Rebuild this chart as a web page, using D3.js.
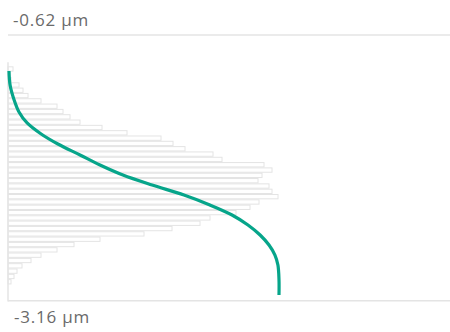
<!DOCTYPE html>
<html>
<head>
<meta charset="utf-8">
<script src="https://cdn.jsdelivr.net/npm/d3@7"></script>
<style>
  html, body { margin: 0; padding: 0; background: #fff; }
  svg { display: block; }
</style>
</head>
<body>
<svg id="chart" width="450" height="332"></svg>
<script>
// Height range shown (µm)
const topHeight = -0.62;
const bottomHeight = -3.16;
const rangeLabels = ["-0.62 µm", "-3.16 µm"];

// Height histogram: bins start at binStart and step down by binWidth (µm)
const binStart = -0.92;
const binWidth = 0.051;
const binCounts = [5, 2, 3, 11, 15, 20, 33, 49, 55, 62, 72, 94, 119, 153, 165, 177,
  205, 214, 256, 264, 254, 250, 261, 264, 270, 251, 242, 228, 202, 192, 164, 136,
  92, 66, 49, 33, 23, 14, 9, 6, 3];

// Material ratio (bearing) curve: height (µm) vs. ratio (%)
const curveHeights = [-0.965, -1.099, -1.243, -1.358, -1.463, -1.569, -1.665, -1.770,
  -1.866, -1.962, -2.058, -2.154, -2.249, -2.345, -2.441, -2.537, -2.633, -2.729,
  -2.825, -2.968, -3.112];
const curveRatios = [0, 0.4, 1.9, 3.7, 6.7, 11.9, 18.1, 26.3,
  33.7, 42.2, 53.0, 64.8, 74.4, 82.6, 88.5, 93.0, 96.3, 98.5,
  99.6, 100, 100];

const svg = d3.select("#chart");
const W = 450;

const y = d3.scaleLinear().domain([topHeight, bottomHeight]).range([35, 300]);
const xCount = d3.scaleLinear().domain([0, 270]).range([8, 278]);
const xRatio = d3.scaleLinear().domain([0, 100]).range([9, 279]);

const grid = "#e4e4e4";

// Range lines
svg.append("line").attr("x1", 8).attr("x2", W)
  .attr("y1", y(topHeight)).attr("y2", y(topHeight))
  .attr("stroke", grid).attr("stroke-width", 1.5);
svg.append("line").attr("x1", 8).attr("x2", W)
  .attr("y1", y(bottomHeight) + 0.8).attr("y2", y(bottomHeight) + 0.8)
  .attr("stroke", grid).attr("stroke-width", 1.5);

// Histogram bars
const bins = binCounts.map((c, i) => ({
  top: binStart - i * binWidth,
  bottom: binStart - (i + 1) * binWidth,
  count: c
}));

svg.append("g").selectAll("rect").data(bins).join("rect")
  .attr("x", xCount(0))
  .attr("y", d => y(d.top) + 0.5)
  .attr("width", d => xCount(d.count) - xCount(0))
  .attr("height", d => y(d.bottom) - y(d.top) - 1)
  .attr("fill", "#fff")
  .attr("stroke", grid)
  .attr("stroke-width", 1);

// Left baseline
svg.append("line").attr("x1", 8).attr("x2", 8)
  .attr("y1", y(binStart) - 4).attr("y2", y(bottomHeight) + 1.5)
  .attr("stroke", grid).attr("stroke-width", 1.5);

// Bearing curve
const pts = curveHeights.map((h, i) => [xRatio(curveRatios[i]), y(h)]);
svg.append("path")
  .attr("d", d3.line().curve(d3.curveCatmullRom.alpha(0.5))(pts))
  .attr("fill", "none")
  .attr("stroke", "#06a58a")
  .attr("stroke-width", 3.2);

// Range labels
svg.append("text").attr("x", 13).attr("y", 26).text(rangeLabels[0]);
svg.append("text").attr("x", 14).attr("y", 323).text(rangeLabels[1]);
svg.selectAll("text")
  .attr("font-family", "'Open Sans', sans-serif")
  .attr("font-size", 17)
  .attr("letter-spacing", 0.8)
  .attr("fill", "#6a6a6a");
</script>
</body>
</html>
